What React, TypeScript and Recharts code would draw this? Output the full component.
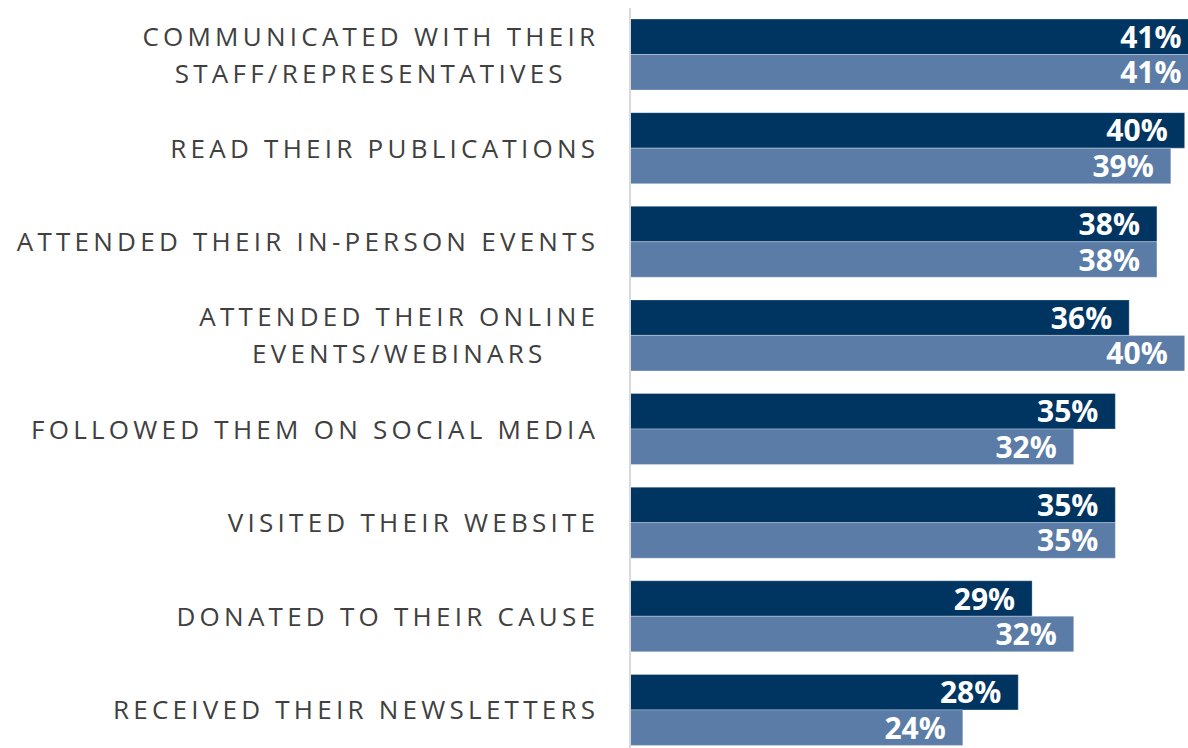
import { BarChart, Bar, XAxis, YAxis, LabelList } from "recharts";

// #region Data
const categories = [
  "COMMUNICATED WITH THEIR\nSTAFF/REPRESENTATIVES",
  "READ THEIR PUBLICATIONS",
  "ATTENDED THEIR IN-PERSON EVENTS",
  "ATTENDED THEIR ONLINE\nEVENTS/WEBINARS",
  "FOLLOWED THEM ON SOCIAL MEDIA",
  "VISITED THEIR WEBSITE",
  "DONATED TO THEIR CAUSE",
  "RECEIVED THEIR NEWSLETTERS",
];
const seriesA = [41, 40, 38, 36, 35, 35, 29, 28];
const seriesB = [41, 39, 38, 40, 32, 35, 32, 24];
// #endregion

const data = categories.map((name, i) => ({ name, a: seriesA[i], b: seriesB[i] }));

const LABEL_FONT = "'Open Sans', sans-serif";
const LABEL_SIZE = 26;
const LABEL_SPACING = 4.25;
const LINE_HEIGHT = 37;

let ctx: CanvasRenderingContext2D | null = null;
function measure(text: string) {
  if (!ctx) {
    ctx = document.createElement("canvas").getContext("2d");
  }
  if (!ctx) return text.length * 17;
  ctx.font = `${LABEL_SIZE}px ${LABEL_FONT}`;
  (ctx as any).letterSpacing = `${LABEL_SPACING}px`;
  return ctx.measureText(text).width;
}

function CategoryTick(props: any) {
  const { x, y, payload } = props;
  const lines: string[] = String(payload.value).split("\n");
  // letter-spacing leaves a trailing gap after the last glyph
  const right = x + LABEL_SPACING - 2;
  const widths = lines.map(measure);
  const blockW = Math.max(...widths);
  const cx = right - blockW / 2;
  const capHalf = LABEL_SIZE * 0.357;
  return (
    <g>
      {lines.map((line, i) => (
        <text
          key={i}
          x={lines.length > 1 ? cx : right}
          y={y + (i - (lines.length - 1) / 2) * LINE_HEIGHT + capHalf}
          textAnchor={lines.length > 1 ? "middle" : "end"}
          fill="#404040"
          fontFamily={LABEL_FONT}
          fontSize={LABEL_SIZE}
          letterSpacing={LABEL_SPACING}
        >
          {line}
        </text>
      ))}
    </g>
  );
}

function ValueLabel(props: any) {
  const { x, y, width, height, value } = props;
  return (
    <text
      x={x + width - 17}
      y={y + height / 2 + 11}
      textAnchor="end"
      fill="#ffffff"
      fontFamily={LABEL_FONT}
      fontWeight={700}
      fontSize={30}
    >
      {value}%
    </text>
  );
}

export default function App() {
  return (
    <div
      style={{
        position: "absolute",
        left: 0,
        top: 0,
        width: 1188,
        height: 748,
        overflow: "hidden",
        background: "#fff",
      }}
    >
      <BarChart
        width={1260}
        height={757}
        data={data}
        layout="vertical"
        barGap={0}
        barSize={35.5}
        margin={{ top: 8, right: 6, bottom: 0, left: 0 }}
      >
        <XAxis type="number" domain={[0, 45]} hide />
        <YAxis
          type="category"
          dataKey="name"
          width={630}
          axisLine={{ stroke: "#d9d9d9", strokeWidth: 2 }}
          tickLine={false}
          tickSize={0}
          tickMargin={33}
          interval={0}
          tick={<CategoryTick />}
        />
        <Bar dataKey="a" fill="#003562" stroke="#ffffff" strokeOpacity={0.4} strokeWidth={0.75} isAnimationActive={false}>
          <LabelList dataKey="a" content={<ValueLabel />} />
        </Bar>
        <Bar dataKey="b" fill="#5a7ca6" stroke="#ffffff" strokeOpacity={0.4} strokeWidth={0.75} isAnimationActive={false}>
          <LabelList dataKey="b" content={<ValueLabel />} />
        </Bar>
      </BarChart>
    </div>
  );
}
